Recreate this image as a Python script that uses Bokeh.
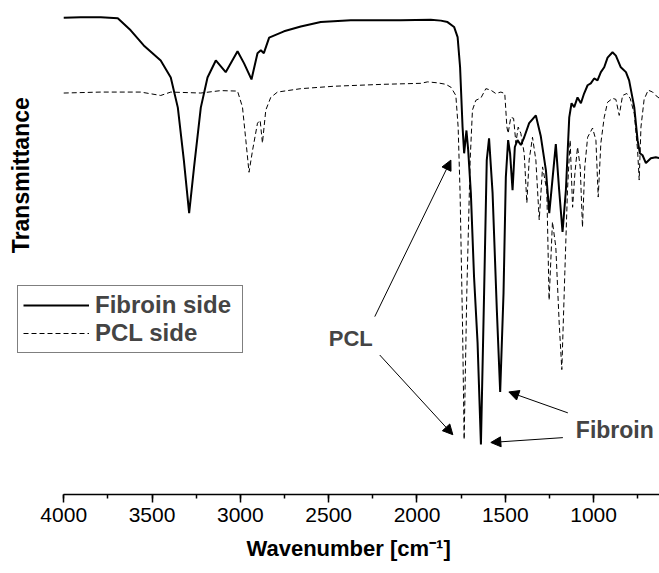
import math
from bokeh.plotting import figure
from bokeh.models import (Range1d, SingleIntervalTicker, Legend, LegendItem, Label, Arrow,
                          NormalHead, ColumnDataSource, Title)
from bokeh.embed import file_html
from bokeh.resources import INLINE

# ---------------- data ----------------
fib_wn = [4000, 3904, 3790, 3694, 3621, 3547, 3451, 3394, 3354, 3320, 3290, 3262, 3224, 3186,
          3139, 3083, 3016, 2979, 2937, 2903, 2884, 2867, 2837, 2753, 2658, 2545, 2375, 2092,
          1922, 1865, 1827, 1790, 1770, 1756, 1742, 1733, 1720, 1710, 1695, 1677, 1657, 1638,
          1620, 1605, 1592, 1572, 1548, 1529, 1510, 1497, 1484, 1473, 1459, 1446, 1431, 1412,
          1393, 1365, 1327, 1299, 1270, 1251, 1214, 1195, 1176, 1157, 1138, 1125, 1110, 1091,
          1072, 1054, 1034, 1016, 997, 978, 959, 940, 921, 893, 874, 846, 817, 799, 770, 751,
          738, 723, 704, 676, 648, 627]
fib_t = [98.1, 98.2, 98.2, 98.0, 95.5, 92.4, 89.3, 85.8, 79.6, 68.8, 57.9, 67.4, 79.6, 85.8,
         89.3, 86.9, 91.2, 88.7, 85.4, 90.8, 91.4, 90.8, 94.0, 95.3, 96.3, 97.2, 97.6, 97.6,
         97.7, 97.5, 97.2, 96.2, 94.1, 87.9, 75.6, 70.2, 74.9, 70.8, 62.0, 44.8, 31.2, 10.3,
         41.5, 68.8, 73.3, 62.0, 38.0, 21.1, 41.5, 65.3, 72.9, 70.2, 62.6, 71.5, 72.9, 71.9,
         73.5, 76.4, 78.0, 73.7, 66.7, 57.9, 72.1, 62.6, 54.0, 62.6, 77.6, 80.5, 79.7, 81.7,
         80.5, 82.5, 84.2, 84.6, 85.6, 85.2, 86.9, 87.9, 89.9, 91.0, 90.3, 87.9, 86.9, 85.2,
         79.7, 72.9, 70.2, 69.8, 68.2, 69.2, 69.4, 69.2]

pcl_wn = [4000, 3790, 3564, 3451, 3394, 3224, 3111, 3016, 2988, 2969, 2951, 2931, 2903, 2888,
          2875, 2856, 2828, 2790, 2658, 2469, 2188, 1978, 1940, 1884, 1837, 1808, 1780, 1767,
          1756, 1742, 1733, 1718, 1699, 1686, 1667, 1638, 1610, 1582, 1554, 1525, 1503, 1491,
          1484, 1469, 1453, 1440, 1427, 1412, 1393, 1378, 1365, 1346, 1327, 1308, 1289, 1265,
          1252, 1233, 1214, 1195, 1180, 1163, 1148, 1133, 1119, 1106, 1091, 1076, 1063, 1050,
          1034, 1006, 987, 974, 959, 940, 921, 893, 874, 855, 836, 812, 793, 770, 751, 742,
          732, 714, 691, 666, 648, 627]
pcl_t = [82.6, 82.8, 82.8, 82.1, 82.8, 82.6, 83.1, 83.0, 79.7, 72.9, 66.3, 70.8, 76.4, 77.0,
         72.3, 79.1, 81.7, 82.8, 83.5, 84.0, 84.4, 84.6, 84.9, 84.7, 84.4, 83.8, 82.1, 75.6,
         62.0, 34.5, 11.3, 41.5, 68.8, 79.1, 81.1, 81.6, 83.5, 83.2, 82.5, 82.8, 82.5, 75.6,
         74.3, 77.6, 77.4, 72.3, 75.6, 74.3, 70.2, 60.0, 68.8, 73.5, 68.8, 56.5, 67.4, 62.6,
         40.0, 56.1, 50.9, 35.3, 25.7, 45.6, 62.6, 72.9, 59.1, 66.1, 71.5, 67.4, 55.0, 67.4,
         73.5, 75.4, 72.9, 61.2, 72.3, 77.6, 80.7, 81.5, 81.3, 78.0, 82.1, 82.5, 81.5, 78.4,
         70.8, 64.7, 75.6, 81.3, 83.2, 82.8, 82.1, 81.5]

series_names = ["Fibroin side", "PCL side"]
x_title = "Wavenumber [cm\u207b\u00b9]"
y_title = "Transmittance"

FONT = "Liberation Sans"

p = figure(width=659, height=570, output_backend="svg", toolbar_location=None,
           x_range=Range1d(4358, 627), y_range=Range1d(0, 101.64),
           min_border_left=0, min_border_right=0, min_border_top=0, min_border_bottom=75)
p.outline_line_color = None
p.xgrid.visible = False
p.ygrid.visible = False
p.yaxis.visible = False
p.background_fill_color = "white"

ax = p.xaxis[0]
ax.bounds = (600, 4000)
ax.ticker = SingleIntervalTicker(interval=500, num_minor_ticks=2)
ax.axis_line_color = "black"
ax.axis_line_width = 1.5
ax.major_tick_line_width = 1.5
ax.minor_tick_line_width = 1.5
ax.major_tick_out = 8
ax.major_tick_in = 0
ax.minor_tick_out = 4
ax.minor_tick_in = 0
ax.major_label_text_font = FONT
ax.major_label_text_font_size = "21px"
ax.major_label_text_color = "black"
ax.major_label_standoff = 5

# x title, placed under the drawn axis as in the reference
p.add_layout(Title(text=x_title, align="left", offset=246, standoff=19,
                   text_font=FONT, text_font_size="22px", text_font_style="bold",
                   text_color="black"), "below")

src_f = ColumnDataSource(dict(x=fib_wn, y=fib_t))
src_p = ColumnDataSource(dict(x=pcl_wn, y=pcl_t))
r_f = p.line("x", "y", source=src_f, line_color="black", line_width=2)
r_p = p.line("x", "y", source=src_p, line_color="black", line_width=1, line_dash="5 3")

legend = Legend(items=[LegendItem(label=series_names[0], renderers=[r_f]),
                       LegendItem(label=series_names[1], renderers=[r_p])],
                location=(17, 141), orientation="vertical",
                border_line_color="black", border_line_width=1,
                background_fill_color="white", background_fill_alpha=1,
                label_text_font=FONT, label_text_font_size="24px", label_text_font_style="bold",
                glyph_width=66, glyph_height=20, label_height=20, label_width=142,
                label_standoff=6, spacing=0, padding=5, margin=0)
p.add_layout(legend, "center")

# y title
p.add_layout(Label(x=4243, y=65.7, text=y_title, angle=math.pi / 2, text_align="center",
                   text_baseline="middle", text_font=FONT, text_font_size="23px",
                   text_font_style="bold", text_color="black"))

# annotations
p.add_layout(Label(x=2375, y=32.0, text="PCL", text_align="center", text_baseline="middle",
                   text_font=FONT, text_font_size="22px", text_font_style="bold"))
p.add_layout(Label(x=880, y=13.3, text="Fibroin", text_align="center", text_baseline="middle",
                   text_font=FONT, text_font_size="23px", text_font_style="bold"))

def arrow(x0, y0, x1, y1):
    p.add_layout(Arrow(end=NormalHead(size=10, fill_color="black", line_color="black"),
                       x_start=x0, y_start=y0, x_end=x1, y_end=y1,
                       line_color="black", line_width=1))

arrow(2239, 36.6, 1808, 68.8)
arrow(2211, 28.7, 1797, 12.3)
arrow(1146, 16.8, 1480, 21.1)
arrow(1174, 11.7, 1582, 10.7)

open("out.html", "w").write(file_html(p, INLINE))
